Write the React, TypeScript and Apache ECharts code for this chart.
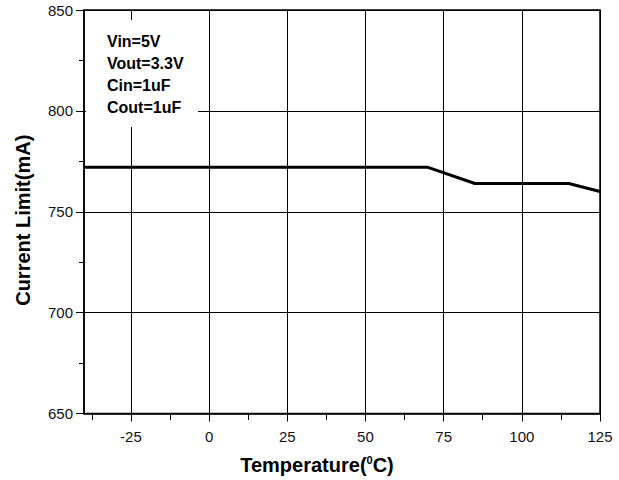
import React, { useEffect, useRef } from "react";
import * as echarts from "echarts";

const temps = [-40, 70, 85, 115, 125];
const currentLimit = [772, 772, 764, 764, 760];
const xMajorTicks = [-25, 0, 25, 50, 75, 100, 125];
const xMinorTicks = [-37.5, -12.5, 12.5, 37.5, 62.5, 87.5, 112.5];
const conditions = ["Vin=5V", "Vout=3.3V", "Cin=1uF", "Cout=1uF"];

const FONT = '"Liberation Sans", Arial, sans-serif';

export default function App() {
  const ref = useRef<HTMLDivElement>(null);
  useEffect(() => {
    if (!ref.current) return;
    const chart = echarts.init(ref.current, null, { renderer: "svg" });
    const lineData = temps.map((t, i) => [t, currentLimit[i]]);
    const gridBox = { left: 84, right: 19, top: 10, bottom: 65 };
    chart.setOption({
      animation: false,
      backgroundColor: "#fff",
      textStyle: { fontFamily: FONT },
      grid: [
        {
          ...gridBox,
          show: true,
          borderColor: "#000",
          borderWidth: 1.5,
          backgroundColor: "transparent",
        },
        { ...gridBox, show: false },
      ],
      xAxis: [
        {
          type: "value",
          gridIndex: 0,
          min: -40,
          max: 125,
          position: "bottom",
          name: "Temperature({sup|0}C)",
          nameLocation: "middle",
          nameGap: 41,
          nameTextStyle: {
            fontFamily: FONT,
            fontSize: 20,
            fontWeight: "bold",
            color: "#000",
            padding: [0, 50, 0, 0],
            rich: {
              sup: {
                fontFamily: FONT,
                fontSize: 11,
                fontWeight: "bold",
                color: "#000",
                padding: [0, 0, 10, 0],
              },
            },
          },
          axisLine: { show: true, onZero: false, lineStyle: { color: "#000", width: 1.5 } },
          axisTick: {
            show: true,
            inside: false,
            length: 8,
            customValues: xMajorTicks,
            lineStyle: { color: "#000", width: 1 },
          },
          axisLabel: {
            customValues: xMajorTicks,
            margin: 15,
            fontSize: 15,
            color: "#111",
            fontFamily: FONT,
          },
          splitLine: { show: true, lineStyle: { color: "#000", width: 1 } },
        },
        {
          type: "value",
          gridIndex: 1,
          min: -40,
          max: 125,
          position: "bottom",
          axisLine: { show: false, onZero: false },
          axisTick: {
            show: true,
            inside: false,
            length: 5,
            customValues: xMinorTicks,
            lineStyle: { color: "#000", width: 1 },
          },
          axisLabel: { show: false },
          splitLine: { show: false },
        },
      ],
      yAxis: [
        {
          type: "value",
          gridIndex: 0,
          min: 650,
          max: 850,
          interval: 50,
          name: "Current Limit(mA)",
          nameLocation: "middle",
          nameGap: 51,
          nameTextStyle: {
            fontFamily: FONT,
            fontSize: 20,
            fontWeight: "bold",
            color: "#000",
            padding: [0, 17, 0, 0],
          },
          axisLine: { show: true, onZero: false, lineStyle: { color: "#000", width: 1.5 } },
          axisTick: { show: true, inside: false, length: 8, lineStyle: { color: "#000", width: 1 } },
          minorTick: { show: true, splitNumber: 2, length: 5, lineStyle: { color: "#000", width: 1 } },
          axisLabel: { margin: 11, fontSize: 15, color: "#111", fontFamily: FONT },
          splitLine: { show: true, lineStyle: { color: "#000", width: 1 } },
        },
        {
          type: "value",
          gridIndex: 1,
          min: 650,
          max: 850,
          show: false,
        },
      ],
      graphic: [
        {
          type: "rect",
          z: 100,
          shape: { x: 86, y: 20, width: 112, height: 107 },
          style: { fill: "#fff" },
        },
        ...conditions.map((c, i) => ({
          type: "text",
          z: 101,
          x: 107,
          y: 41 + i * 22,
          style: {
            text: c,
            fontFamily: FONT,
            fontSize: 16,
            fontWeight: "bold",
            fill: "#000",
            verticalAlign: "middle",
          },
        })),
      ],
      series: [
        {
          type: "line",
          xAxisIndex: 0,
          yAxisIndex: 0,
          data: lineData,
          showSymbol: false,
          symbol: "none",
          lineStyle: { color: "#000", width: 3 },
          z: 10,
        },
      ],
    });
    return () => chart.dispose();
  }, []);
  return <div ref={ref} style={{ width: 619, height: 480, position: "absolute", left: 0, top: 0 }} />;
}
